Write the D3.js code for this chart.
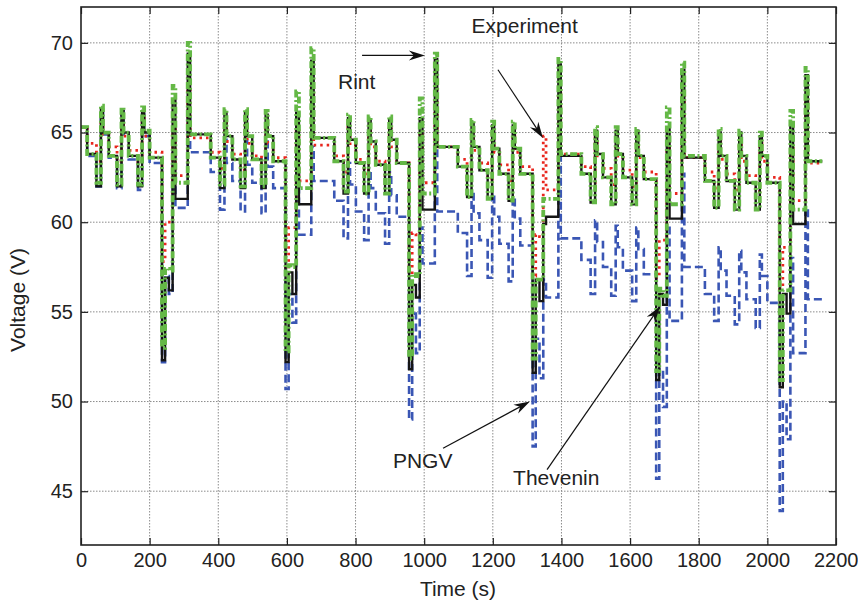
<!DOCTYPE html>
<html>
<head>
<meta charset="utf-8">
<script src="https://cdn.jsdelivr.net/npm/d3@7"></script>
<style>
body { margin: 0; background: #fff; }
text { font-family: "Liberation Sans", Arial, Helvetica, sans-serif; fill: #222; }
</style>
</head>
<body>
<svg id="chart" width="858" height="602"></svg>
<script>
// shared time breakpoints (s), one row per 360 s test cycle
var time = [0,
  18, 45, 58, 64, 81, 105, 118, 124, 139, 166, 178, 184, 200, 236, 245, 256, 267, 275, 311, 318,
  378, 405, 418, 424, 441, 465, 478, 484, 499, 526, 538, 544, 560, 596, 605, 616, 627, 635, 671, 678,
  738, 765, 778, 784, 801, 825, 838, 844, 859, 886, 898, 904, 920, 956, 965, 976, 987, 995, 1031, 1038,
  1098, 1125, 1138, 1144, 1161, 1185, 1198, 1204, 1219, 1246, 1258, 1264, 1280, 1316, 1325, 1336, 1347, 1355, 1391, 1398,
  1458, 1485, 1498, 1504, 1521, 1545, 1558, 1564, 1579, 1606, 1618, 1624, 1640, 1676, 1685, 1696, 1707, 1715, 1751, 1758,
  1818, 1845, 1858, 1864, 1881, 1905, 1918, 1924, 1939, 1966, 1978, 1984, 2000, 2036, 2045, 2056, 2067, 2075, 2111, 2118,
  2160];

var experiment = [65.3,
  63.8, 62.2, 66.5, 65.0, 63.7, 62.1, 66.4, 65.0, 63.7, 62.1, 66.4, 65.1, 63.6, 53.0, 57.4, 57.3, 67.6, 62.2, 70.0, 64.9,
  63.6, 62.1, 66.3, 64.8, 63.5, 62.0, 66.3, 64.8, 63.5, 62.0, 66.2, 64.8, 63.4, 52.8, 57.6, 57.5, 67.3, 61.9, 69.7, 64.7,
  63.4, 61.7, 66.0, 64.6, 63.3, 61.6, 65.9, 64.5, 63.2, 61.6, 65.9, 64.6, 63.3, 52.4, 57.1, 57.0, 66.9, 61.6, 69.4, 64.2,
  63.1, 61.4, 65.7, 64.2, 62.9, 61.3, 65.6, 64.1, 62.7, 61.2, 65.6, 64.1, 62.7, 52.4, 56.8, 56.8, 61.3, 61.3, 69.1, 63.8,
  62.7, 61.1, 65.3, 63.8, 62.5, 61.0, 65.3, 63.8, 62.5, 61.0, 65.2, 63.7, 62.4, 51.7, 56.3, 55.9, 66.4, 61.0, 68.9, 63.7,
  62.3, 60.8, 65.2, 63.7, 62.3, 60.7, 65.1, 63.7, 62.2, 60.7, 65.0, 63.7, 62.2, 51.2, 56.2, 56.2, 66.2, 60.7, 68.6, 63.4,
  63.4];

var thevenin = [65.3,
  63.8, 62.0, 66.3, 65.0, 63.7, 62.0, 66.2, 65.0, 63.7, 62.0, 66.2, 65.0, 63.6, 52.3, 56.9, 56.2, 66.8, 61.3, 69.4, 64.9,
  63.6, 61.9, 66.1, 64.8, 63.5, 61.9, 66.1, 64.8, 63.5, 61.9, 66.0, 64.8, 63.4, 52.2, 57.2, 56.0, 66.1, 61.0, 69.0, 64.7,
  63.4, 61.6, 65.8, 64.6, 63.3, 61.6, 65.7, 64.5, 63.2, 61.6, 65.7, 64.6, 63.3, 51.8, 56.5, 55.8, 65.8, 60.7, 69.1, 64.2,
  63.1, 61.4, 65.5, 64.2, 62.9, 61.3, 65.4, 64.1, 62.7, 61.2, 65.4, 64.1, 62.7, 51.6, 56.8, 55.6, 59.9, 60.3, 68.8, 63.7,
  62.7, 61.1, 65.1, 63.8, 62.5, 61.0, 65.1, 63.8, 62.5, 61.0, 65.1, 63.7, 62.4, 51.2, 56.0, 55.4, 65.3, 60.2, 68.5, 63.6,
  62.3, 60.8, 65.0, 63.7, 62.3, 60.7, 65.0, 63.7, 62.2, 60.7, 64.8, 63.7, 62.2, 50.8, 56.0, 54.9, 65.5, 59.9, 68.2, 63.4,
  63.4];

var rint = [65.3,
  64.4, 63.4, 65.9, 64.9, 64.2, 63.4, 65.8, 64.8, 64.0, 63.3, 65.8, 64.8, 63.9, 57.8, 60.0, 60.0, 65.5, 62.6, 68.0, 64.7,
  63.9, 63.0, 65.6, 64.5, 63.8, 62.9, 65.5, 64.4, 63.7, 62.9, 65.5, 64.4, 63.6, 57.4, 59.7, 59.7, 65.2, 62.3, 67.6, 64.3,
  63.7, 62.8, 65.3, 64.3, 63.5, 62.7, 65.2, 64.2, 63.4, 62.6, 65.2, 64.2, 63.3, 57.1, 59.4, 59.3, 65.0, 62.2, 67.4, 64.2,
  63.5, 62.5, 65.0, 64.0, 63.3, 62.4, 64.9, 63.9, 63.2, 62.3, 64.9, 63.9, 63.1, 57.0, 59.3, 59.2, 64.8, 61.8, 67.2, 63.8,
  63.1, 62.2, 64.7, 63.7, 63.0, 62.1, 64.6, 63.6, 62.9, 62.0, 64.6, 63.6, 62.8, 56.9, 59.0, 59.0, 64.5, 61.6, 67.0, 63.6,
  62.8, 61.9, 64.5, 63.5, 62.7, 61.8, 64.4, 63.4, 62.6, 61.7, 64.4, 63.4, 62.5, 56.3, 58.6, 58.6, 64.2, 61.2, 66.8, 63.3,
  63.3];

var pngv = [65.3,
  63.7, 62.0, 66.2, 64.9, 63.6, 61.9, 66.2, 64.9, 63.5, 61.8, 66.0, 64.8, 63.3, 52.2, 57.0, 56.0, 64.0, 60.8, 66.0, 63.9,
  62.8, 60.7, 64.6, 63.3, 62.3, 60.6, 64.6, 63.2, 62.2, 60.5, 64.5, 63.1, 61.9, 50.7, 56.0, 54.4, 62.7, 59.3, 64.2, 62.3,
  61.2, 59.1, 63.3, 62.1, 60.6, 59.0, 63.0, 61.9, 60.5, 58.8, 62.8, 61.5, 60.3, 49.0, 54.9, 52.7, 59.7, 57.7, 64.0, 60.6,
  59.4, 57.0, 61.8, 60.5, 59.0, 56.9, 61.6, 60.3, 58.8, 56.7, 61.4, 60.2, 58.7, 47.5, 53.5, 51.3, 56.8, 55.8, 64.0, 59.1,
  57.9, 56.0, 60.1, 58.9, 57.5, 55.9, 59.8, 58.6, 57.3, 55.6, 59.7, 58.5, 57.1, 45.7, 51.8, 49.7, 59.9, 54.5, 62.7, 57.5,
  56.0, 54.5, 58.6, 57.3, 55.9, 54.3, 58.4, 57.2, 55.7, 54.1, 58.2, 57.0, 55.5, 43.9, 50.0, 47.9, 58.0, 52.7, 60.8, 55.7,
  55.7];

var xTicks = [0, 200, 400, 600, 800, 1000, 1200, 1400, 1600, 1800, 2000, 2200];
var yTicks = [45, 50, 55, 60, 65, 70];

// annotation labels (data units)
var labels = [
  {text: "Rint", t: 749, v: 67.4, from: [819, 69.3], to: [1002, 69.3]},
  {text: "Experiment", t: 1138, v: 70.55, from: [1215, 68.5], to: [1346, 64.7]},
  {text: "PNGV", t: 909, v: 46.3, from: [1055, 47.4], to: [1308, 50.0]},
  {text: "Thevenin", t: 1259, v: 45.35, from: [1358, 46.2], to: [1687, 55.3]}
];

var svg = d3.select("#chart");
var plotLeft = 81, plotRight = 836, plotTop = 7, plotBottom = 545;

var x = d3.scaleLinear().domain([0, 2200]).range([plotLeft, plotRight]);
var y = d3.scaleLinear().domain([42, 72]).range([plotBottom, plotTop]);

// grid
var grid = svg.append("g").attr("stroke", "#8c8c8c").attr("stroke-width", 1)
  .attr("stroke-dasharray", "1.5,1.5");
grid.selectAll(".gx").data(xTicks.slice(1, -1)).enter().append("line")
  .attr("x1", function(d) { return x(d); }).attr("x2", function(d) { return x(d); })
  .attr("y1", plotTop).attr("y2", plotBottom);
grid.selectAll(".gy").data(yTicks).enter().append("line")
  .attr("x1", plotLeft).attr("x2", plotRight)
  .attr("y1", function(d) { return y(d); }).attr("y2", function(d) { return y(d); });

svg.append("clipPath").attr("id", "clip").append("rect")
  .attr("x", plotLeft).attr("y", plotTop)
  .attr("width", plotRight - plotLeft).attr("height", plotBottom - plotTop);

var line = d3.line()
  .x(function(d, i) { return x(time[i]); })
  .y(function(d) { return y(d); })
  .curve(d3.curveStepAfter);

var plot = svg.append("g").attr("clip-path", "url(#clip)").attr("fill", "none");

plot.append("path").attr("d", line(pngv))
  .attr("stroke", "#3a56b4").attr("stroke-width", 2.6).attr("stroke-dasharray", "8,4");
plot.append("path").attr("d", line(rint))
  .attr("stroke", "#e8261e").attr("stroke-width", 2.8).attr("stroke-dasharray", "2.5,4");
plot.append("path").attr("d", line(thevenin))
  .attr("stroke", "#151515").attr("stroke-width", 2.4);
plot.append("path").attr("d", line(experiment))
  .attr("stroke", "#64b846").attr("stroke-width", 3.8).attr("stroke-dasharray", "7,2.5,2,2.5");

// axes with inward ticks
function styleAxis(g) {
  g.select(".domain").remove();
  g.selectAll(".tick line").attr("stroke", "#222").attr("stroke-width", 1.2);
  g.selectAll(".tick text").style("font-size", "20px").attr("fill", "#222");
}
svg.append("g").attr("transform", "translate(0," + plotBottom + ")")
  .call(d3.axisBottom(x).tickValues(xTicks).tickFormat(d3.format("d"))
    .tickSizeInner(-7).tickSizeOuter(0).tickPadding(8))
  .call(styleAxis);
svg.append("g").attr("transform", "translate(" + plotLeft + ",0)")
  .call(d3.axisLeft(y).tickValues(yTicks).tickFormat(d3.format("d"))
    .tickSizeInner(-7).tickSizeOuter(0).tickPadding(8))
  .call(styleAxis);
svg.append("g").attr("transform", "translate(0," + plotTop + ")")
  .call(d3.axisTop(x).tickValues(xTicks).tickSizeInner(-7).tickSizeOuter(0).tickFormat(""))
  .call(styleAxis);
svg.append("g").attr("transform", "translate(" + plotRight + ",0)")
  .call(d3.axisRight(y).tickValues(yTicks).tickSizeInner(-7).tickSizeOuter(0).tickFormat(""))
  .call(styleAxis);

// the last x label sits against the right edge, as in the reference
svg.selectAll("g.tick text").filter(function(d) { return d === 2200; })
  .attr("text-anchor", "end").attr("dx", "22");

svg.append("rect").attr("x", plotLeft).attr("y", plotTop)
  .attr("width", plotRight - plotLeft).attr("height", plotBottom - plotTop)
  .attr("fill", "none").attr("stroke", "#222").attr("stroke-width", 1.6);

// axis titles
svg.append("text").attr("x", 458).attr("y", 596)
  .attr("text-anchor", "middle").style("font-size", "21px").text("Time (s)");
svg.append("text").attr("transform", "translate(25,300) rotate(-90)")
  .attr("text-anchor", "middle").style("font-size", "21px").text("Voltage (V)");

// annotations
var ann = svg.append("g");
labels.forEach(function(d) {
  ann.append("text").attr("x", x(d.t)).attr("y", y(d.v))
    .style("font-size", "21px").text(d.text);

  var x1 = x(d.from[0]), y1 = y(d.from[1]), x2 = x(d.to[0]), y2 = y(d.to[1]);
  var a = Math.atan2(y2 - y1, x2 - x1);
  ann.append("line").attr("x1", x1).attr("y1", y1)
    .attr("x2", x2 - 6 * Math.cos(a)).attr("y2", y2 - 6 * Math.sin(a))
    .attr("stroke", "#111").attr("stroke-width", 1.2);
  ann.append("path")
    .attr("d", "M0,0 L-16,-5 L-11,0 L-16,5 Z")
    .attr("fill", "#111")
    .attr("transform", "translate(" + x2 + "," + y2 + ") rotate(" + (a * 180 / Math.PI) + ")");
});
</script>
</body>
</html>
